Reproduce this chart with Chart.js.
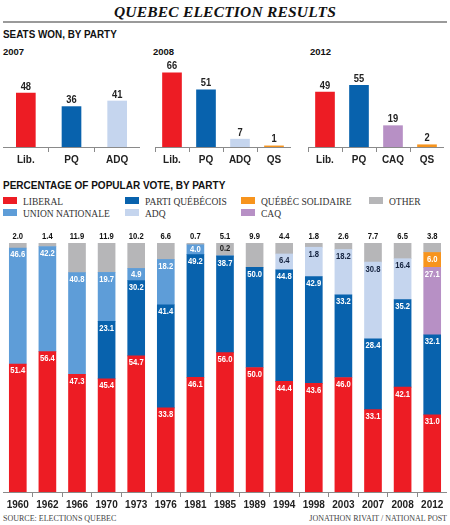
<!DOCTYPE html>
<html>
<head>
<meta charset="utf-8">
<script src="https://cdn.jsdelivr.net/npm/chart.js@4.4.1/dist/chart.umd.min.js"></script>
<style>
  body { margin: 0; background: #fff; }
  #page { position: relative; width: 450px; height: 525px; overflow: hidden; font-family: "Liberation Sans", Arial, sans-serif; color: #111; }
  .abs { position: absolute; white-space: nowrap; }
  #title { left: 0; width: 450px; top: 3px; text-align: center; font-family: "Liberation Serif", serif; font-style: italic; font-weight: bold; font-size: 15.5px; letter-spacing: 0.2px; color: #111; }
  #rule { left: 3px; width: 444px; top: 21px; height: 2px; background: #9a9a9a; }
  .head { font-weight: 900; font-size: 11.5px; transform-origin: 0 50%; }
  .year { font-weight: bold; font-size: 9.5px; }
  .leg { font-family: "Liberation Serif", serif; font-size: 9.5px; color: #333; line-height: 12px; }
  .sw { display: inline-block; width: 14px; height: 7px; vertical-align: 1px; margin-right: 6px; }
  .foot { font-family: "Liberation Serif", serif; font-size: 8px; color: #444; top: 514px; }
  canvas { position: absolute; }
</style>
</head>
<body>
<div id="page">
  <div id="title" class="abs">QUEBEC ELECTION RESULTS</div>
  <div id="rule" class="abs"></div>
  <div class="abs head" style="left:3px;top:28px;transform:scaleX(0.86)">SEATS WON, BY PARTY</div>
  <div class="abs year" style="left:3px;top:46px">2007</div>
  <div class="abs year" style="left:153px;top:46px">2008</div>
  <div class="abs year" style="left:310px;top:46px">2012</div>
  <canvas id="s2007" style="left:3px;top:55px" width="137" height="113"></canvas>
  <canvas id="s2008" style="left:155px;top:55px" width="136" height="113"></canvas>
  <canvas id="s2012" style="left:308px;top:55px" width="136" height="113"></canvas>
  <div class="abs head" style="left:3px;top:179px;transform:scaleX(0.87)">PERCENTAGE OF POPULAR VOTE, BY PARTY</div>
  <div id="legend"></div>
  <canvas id="vote" style="left:3px;top:230px" width="444" height="283"></canvas>
  <div class="abs foot" style="left:3px">SOURCE: ELECTIONS QUEBEC</div>
  <div class="abs foot" style="right:3px">JONATHON RIVAIT / NATIONAL POST</div>
</div>
<script>
// seats won
const seatParties2007 = ['Lib.', 'PQ', 'ADQ'];
const seats2007 = [48, 36, 41];
const seatParties2008 = ['Lib.', 'PQ', 'ADQ', 'QS'];
const seats2008 = [66, 51, 7, 1];
const seatParties2012 = ['Lib.', 'PQ', 'CAQ', 'QS'];
const seats2012 = [49, 55, 19, 2];

// popular vote (%)
const years = ['1960', '1962', '1966', '1970', '1973', '1976', '1981', '1985', '1989', '1994', '1998', '2003', '2007', '2008', '2012'];
const liberal = [51.4, 56.4, 47.3, 45.4, 54.7, 33.8, 46.1, 56.0, 50.0, 44.4, 43.6, 46.0, 33.1, 42.1, 31.0];
const partiQuebecois = [null, null, null, 23.1, 30.2, 41.4, 49.2, 38.7, 40.2, 44.8, 42.9, 33.2, 28.4, 35.2, 32.1];
const unionNationale = [46.6, 42.2, 40.8, 19.7, 4.9, 18.2, 4.0, 0.2, null, null, null, null, null, null, null];
const adq = [null, null, null, null, null, null, null, null, null, 6.4, 11.8, 18.2, 30.8, 16.4, null];
const caq = [null, null, null, null, null, null, null, null, null, null, null, null, null, null, 27.1];
const quebecSolidaire = [null, null, null, null, null, null, null, null, null, null, null, null, null, null, 6.0];
const other = [2.0, 1.4, 11.9, 11.9, 10.2, 6.6, 0.7, 5.1, 9.9, 4.4, 1.8, 2.6, 7.7, 6.5, 3.8];
// labels as they are printed on the original graphic
const printedAs = { 'PARTI QUÉBÉCOIS|1989': '50.0', 'ADQ|1998': '1.8' };

const colors = {
  'LIBERAL': '#ed1c24',
  'PARTI QUÉBÉCOIS': '#0862ad',
  'UNION NATIONALE': '#5e9dd8',
  'ADQ': '#c5d5ee',
  'CAQ': '#b790c5',
  'QUÉBÉC SOLIDAIRE': '#f7941d',
  'OTHER': '#b6b6b8'
};
const seatColors = { 'Lib.': colors['LIBERAL'], 'PQ': colors['PARTI QUÉBÉCOIS'], 'ADQ': colors['ADQ'], 'CAQ': colors['CAQ'], 'QS': colors['QUÉBÉC SOLIDAIRE'] };

const sans = '"Liberation Sans", Arial, sans-serif';
Chart.defaults.font.family = sans;
Chart.defaults.animation = false;
Chart.defaults.responsive = false;
Chart.defaults.plugins.legend.display = false;
Chart.defaults.plugins.tooltip.enabled = false;

// legend (two rows, four columns)
const legendCols = [[3, 'LIBERAL', 'UNION NATIONALE'], [125, 'PARTI QUÉBÉCOIS', 'ADQ'], [241, 'QUÉBÉC SOLIDAIRE', 'CAQ'], [369, 'OTHER']];
const legendEl = document.getElementById('legend');
legendCols.forEach(col => {
  col.slice(1).forEach((name, row) => {
    const d = document.createElement('div');
    d.className = 'abs leg';
    d.style.left = col[0] + 'px';
    d.style.top = (196 + row * 12) + 'px';
    d.innerHTML = `<span class="sw" style="background:${colors[name]}"></span>${name}`;
    legendEl.appendChild(d);
  });
});

// narrow text: the original uses a condensed face
function narrowText(ctx, text, x, y, squeeze) {
  ctx.save();
  ctx.translate(x, y);
  ctx.scale(squeeze, 1);
  ctx.fillText(text, 0, 0);
  ctx.restore();
}

const seatLabels = {
  id: 'seatLabels',
  afterDatasetsDraw(chart) {
    const ctx = chart.ctx;
    const meta = chart.getDatasetMeta(0);
    ctx.save();
    ctx.font = 'bold 11px ' + sans;
    ctx.fillStyle = '#222';
    ctx.textAlign = 'center';
    ctx.textBaseline = 'bottom';
    meta.data.forEach((bar, i) => {
      narrowText(ctx, String(chart.data.datasets[0].data[i]), bar.x, bar.y - 1, 0.85);
    });
    ctx.restore();
  }
};

const xAxis = () => ({
  offset: true,
  grid: { offset: true, drawOnChartArea: false, drawTicks: true, tickLength: 5, color: '#8a8a8a' },
  border: { display: true, color: '#8a8a8a' },
  ticks: { font: { weight: 'bold', size: 10 }, color: '#222', padding: 2, maxRotation: 0, minRotation: 0, autoSkip: false }
});

function seatChart(id, parties, values) {
  new Chart(document.getElementById(id), {
    type: 'bar',
    data: {
      labels: parties,
      datasets: [{ data: values, backgroundColor: parties.map(p => seatColors[p]), barThickness: 19 }]
    },
    options: {
      layout: { padding: 0 },
      scales: {
        x: xAxis(),
        y: { display: false, min: 0, max: 82 }
      }
    },
    plugins: [seatLabels]
  });
}
seatChart('s2007', seatParties2007, seats2007);
seatChart('s2008', seatParties2008, seats2008);
seatChart('s2012', seatParties2012, seats2012);

const voteSeries = [
  ['LIBERAL', liberal, '#fff'],
  ['PARTI QUÉBÉCOIS', partiQuebecois, '#fff'],
  ['UNION NATIONALE', unionNationale, '#fff'],
  ['ADQ', adq, '#15233f'],
  ['CAQ', caq, '#fff'],
  ['QUÉBÉC SOLIDAIRE', quebecSolidaire, '#fff'],
  ['OTHER', other, '#111']
];

const voteLabels = {
  id: 'voteLabels',
  afterDatasetsDraw(chart) {
    const ctx = chart.ctx;
    ctx.save();
    ctx.font = 'bold 9px ' + sans;
    ctx.textAlign = 'center';
    ctx.textBaseline = 'middle';
    chart.data.datasets.forEach((ds, di) => {
      const meta = chart.getDatasetMeta(di);
      meta.data.forEach((bar, i) => {
        const v = ds.data[i];
        if (v == null) return;
        const text = printedAs[ds.label + '|' + years[i]] || v.toFixed(1);
        const h = bar.base - bar.y;
        if (ds.label === 'OTHER') {
          ctx.fillStyle = '#111';
          narrowText(ctx, text, bar.x, bar.y - 6, 0.85);
        } else if (h < 8) {
          ctx.fillStyle = '#222';
          narrowText(ctx, text, bar.x, bar.y - 7, 0.85);
        } else {
          ctx.fillStyle = ds.textColor;
          narrowText(ctx, text, bar.x, bar.y + Math.min(7, h / 2), 0.85);
        }
      });
    });
    ctx.restore();
  }
};

new Chart(document.getElementById('vote'), {
  type: 'bar',
  data: {
    labels: years,
    datasets: voteSeries.map(([name, values, textColor]) => ({
      label: name,
      data: values,
      textColor: textColor,
      backgroundColor: colors[name],
      stack: 'vote',
      barThickness: 17
    }))
  },
  options: {
    layout: { padding: { top: 13 } },
    scales: {
      x: xAxis(),
      y: { display: false, stacked: true, min: 0, max: 100 }
    }
  },
  plugins: [voteLabels]
});
</script>
</body>
</html>
